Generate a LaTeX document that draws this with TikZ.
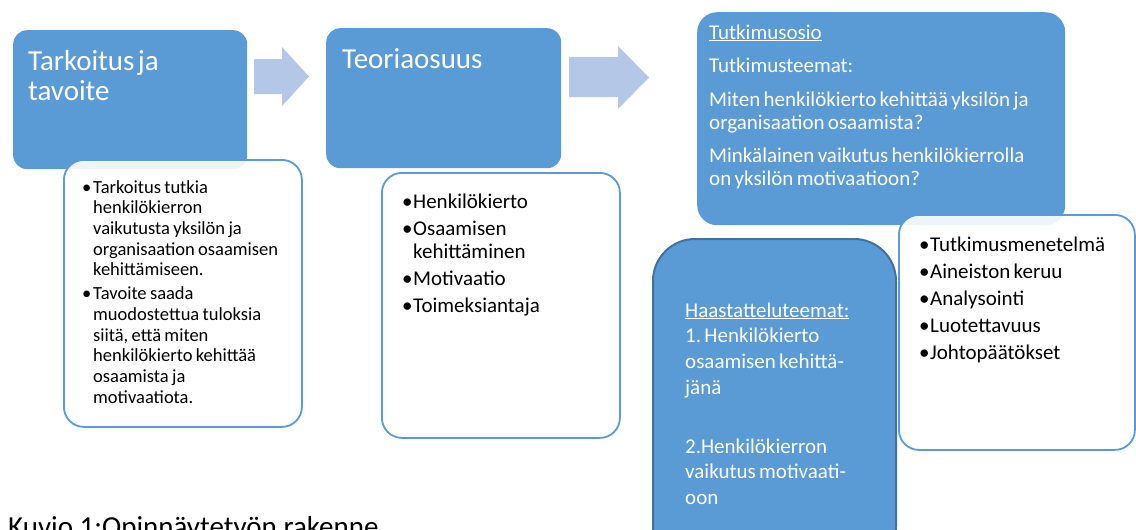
\documentclass[tikz,border=0pt]{standalone}
\usepackage{fontspec}
\setmainfont{Carlito}
\usetikzlibrary{positioning,calc}
\definecolor{accblue}{HTML}{5B9BD5}
\definecolor{arrblue}{HTML}{B4C7E7}
\definecolor{edgeblue}{HTML}{41719C}
\newcommand{\bitem}[1]{\hangindent=11pt\hangafter=1\noindent\makebox[11pt][l]{\textbullet}#1\par}
\newcommand{\smalllist}{\fontsize{18.5}{20.7}\selectfont\setlength{\parskip}{3.3pt}}
\newcommand{\biglist}{\fontsize{21}{23.5}\selectfont\setlength{\parskip}{3.6pt}}

\begin{document}
\begin{tikzpicture}[x=1pt, y=-1pt,
    headbox/.style={rectangle, rounded corners=14pt, fill=accblue, anchor=north west, inner sep=0pt},
    listbox/.style={rectangle, rounded corners=20pt, draw=accblue, line width=1.8pt, fill=white, fill opacity=0.9, anchor=north west, inner sep=0pt},
    headtext/.style={anchor=base west, inner sep=0pt, text=white, text width=#1, execute at begin node=\raggedright\frenchspacing},
    listtext/.style={anchor=base west, inner sep=0pt, text width=215pt, execute at begin node=\raggedright},
    blockarrow/.style={fill=arrblue}]
  \useasboundingbox (0,0) rectangle (1136,530);

  % first column
  \node[headbox, minimum width=234pt, minimum height=139pt] (tarkoitus) at (13,30) {};
  \node[listbox, minimum width=238pt, minimum height=267pt] (tarkoituslist) at (63,159) {};
  \node[headtext=210pt] (tarkoitusT) at (28,70)
    {\fontsize{29}{31}\selectfont Tarkoitus ja\newline tavoite\par};
  \node[listtext] (tarkoituslistT) at (82,193) {\smalllist
    \bitem{Tarkoitus tutkia\newline henkilökierron\newline vaikutusta yksilön ja\newline organisaation osaamisen\newline kehittämiseen.}
    \bitem{Tavoite saada\newline muodostettua tuloksia\newline siitä, että miten\newline henkilökierto kehittää\newline osaamista ja\newline motivaatiota.}};

  \fill[blockarrow] (254,59) -- (282,59) -- (282,47) -- (309,76.5) -- (282,106) -- (282,94) -- (254,94) -- cycle;

  % second column
  \node[headbox, minimum width=235pt, minimum height=140pt] (teoria) at (326,28) {};
  \node[listbox, minimum width=238pt, minimum height=265pt] (teorialist) at (381,172) {};
  \node[headtext=210pt] (teoriaT) at (342,68)
    {\fontsize{29}{31}\selectfont Teoriaosuus\par};
  \node[listtext] (teorialistT) at (402,208) {\biglist
    \bitem{Henkilökierto}
    \bitem{Osaamisen\newline kehittäminen}
    \bitem{Motivaatio}
    \bitem{Toimeksiantaja}};

  \fill[blockarrow] (569,57) -- (618,57) -- (618,46) -- (649,77.5) -- (618,109) -- (618,97) -- (569,97) -- cycle;

  % third column
  \node[headbox, rounded corners=20pt, minimum width=368pt, minimum height=213pt] (tutkimus) at (697,12) {};
  \node[listbox, minimum width=236pt, minimum height=235pt] (tutkimuslist) at (898,214) {};
  \node[headbox, rounded corners=42pt, draw=edgeblue, line width=2pt, minimum width=243pt, minimum height=330pt] (haastattelu) at (652,238) {};
  \node[headtext=355pt] (tutkimusT) at (709,39)
    {\fontsize{21}{23}\selectfont\setlength{\parskip}{10.5pt}%
     \underline{Tutkimusosio}\par
     Tutkimusteemat:\par
     Miten henkilökierto kehittää yksilön ja\newline
     organisaation osaamista?\par
     Minkälainen vaikutus henkilökierrolla\newline
     on yksilön motivaatioon?\par};
  \node[listtext] (tutkimuslistT) at (919,251) {\biglist
    \bitem{Tutkimusmenetelmä}
    \bitem{Aineiston keruu}
    \bitem{Analysointi}
    \bitem{Luotettavuus}
    \bitem{Johtopäätökset}};
  \node[headtext=210pt] (haastatteluT) at (685,317)
    {\fontsize{21}{25.7}\selectfont\setlength{\parskip}{33.3pt}%
     \underline{Haastatteluteemat:}\newline
     1. Henkilökierto\newline
     osaamisen kehittä-\newline
     jänä\par
     2.Henkilökierron\newline
     vaikutus motivaati-\newline
     oon\par};

  \node[anchor=base west, inner sep=0pt, font=\fontsize{29}{31}\selectfont] (kuvio) at (8,536) {Kuvio 1:Opinnäytetyön rakenne};
\end{tikzpicture}
\end{document}
